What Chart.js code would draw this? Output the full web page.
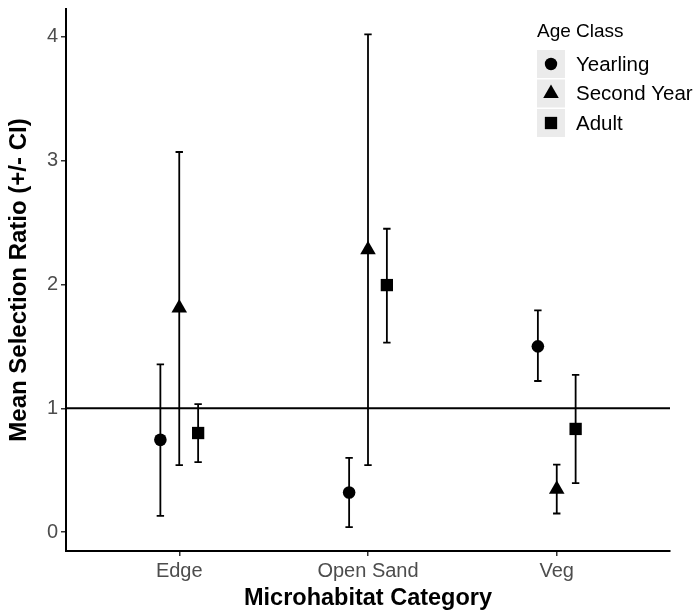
<!DOCTYPE html>
<html>
<head>
<meta charset="utf-8">
<script src="https://cdn.jsdelivr.net/npm/chart.js@4.4.1/dist/chart.umd.min.js"></script>
<style>
  html, body { margin: 0; padding: 0; background: #fff; }
  canvas { display: block; }
</style>
</head>
<body>
<canvas id="chart" width="694" height="616"></canvas>
<script>
const categories = ['Edge', 'Open Sand', 'Veg'];
const ageClasses = ['Yearling', 'Second Year', 'Adult'];
const pointStyles = ['circle', 'triangle', 'rect'];
const dodge = [-0.1, 0, 0.1];

const yearlingMean = [0.745, 0.32, 1.50];
const yearlingLow = [0.13, 0.04, 1.22];
const yearlingHigh = [1.355, 0.60, 1.79];

const secondMean = [1.81, 2.28, 0.345];
const secondLow = [0.54, 0.54, 0.15];
const secondHigh = [3.07, 4.02, 0.545];

const adultMean = [0.80, 1.995, 0.833];
const adultLow = [0.565, 1.53, 0.395];
const adultHigh = [1.034, 2.45, 1.27];

const yTicks = [0, 1, 2, 3, 4];
const refLine = 1;

const means = [yearlingMean, secondMean, adultMean];
const lows = [yearlingLow, secondLow, adultLow];
const highs = [yearlingHigh, secondHigh, adultHigh];

const FONT = '"Liberation Sans", Arial, sans-serif';

function markerPath(ctx, style, x, y, r) {
  ctx.beginPath();
  if (style === 'circle') {
    ctx.arc(x, y, r, 0, Math.PI * 2);
  } else if (style === 'triangle') {
    ctx.moveTo(x, y - r);
    ctx.lineTo(x + r * Math.sqrt(3) / 2, y + r / 2);
    ctx.lineTo(x - r * Math.sqrt(3) / 2, y + r / 2);
    ctx.closePath();
  } else {
    const s = r * Math.SQRT1_2;
    ctx.rect(x - s, y - s, 2 * s, 2 * s);
  }
  ctx.fill();
}

// error bars + reference line, under the points
const errorBars = {
  id: 'errorBars',
  beforeDatasetsDraw(chart) {
    const { ctx, scales: { x, y }, chartArea } = chart;
    ctx.save();
    ctx.strokeStyle = '#000';
    ctx.lineWidth = 1.8;
    const yRef = y.getPixelForValue(refLine);
    ctx.beginPath();
    ctx.moveTo(chartArea.left, yRef);
    ctx.lineTo(chartArea.right, yRef);
    ctx.stroke();
    ageClasses.forEach((a, k) => {
      categories.forEach((c, i) => {
        const px = x.getPixelForValue(i + 1 + dodge[k]);
        const lo = y.getPixelForValue(lows[k][i]);
        const hi = y.getPixelForValue(highs[k][i]);
        ctx.beginPath();
        ctx.moveTo(px, lo); ctx.lineTo(px, hi);
        ctx.moveTo(px - 3.7, lo); ctx.lineTo(px + 3.7, lo);
        ctx.moveTo(px - 3.7, hi); ctx.lineTo(px + 3.7, hi);
        ctx.stroke();
      });
    });
    ctx.restore();
  }
};

const legendBox = {
  id: 'legendBox',
  afterDraw(chart) {
    const ctx = chart.ctx;
    ctx.save();
    ctx.fillStyle = '#000';
    ctx.textBaseline = 'middle';
    ctx.textAlign = 'left';
    ctx.font = '19px ' + FONT;
    ctx.fillText('Age Class', 537, 32);
    const sizes = [6.2, 9, 8.7];
    ageClasses.forEach((name, k) => {
      const top = 50 + k * 29.5;
      ctx.fillStyle = '#ebebeb';
      ctx.fillRect(537, top, 28, 28);
      ctx.fillStyle = '#000';
      markerPath(ctx, pointStyles[k], 551, top + 14, sizes[k]);
      ctx.font = '20.5px ' + FONT;
      ctx.fillText(name, 576, top + 15);
    });
    ctx.restore();
  }
};

const datasets = ageClasses.map((name, k) => ({
  label: name,
  data: categories.map((c, i) => ({ x: i + 1 + dodge[k], y: means[k][i] })),
  pointStyle: pointStyles[k],
  pointRadius: [6.3, 9, 8.7][k],
  pointHoverRadius: [6.3, 9, 8.7][k],
  backgroundColor: '#000',
  borderColor: '#000',
  borderWidth: 0,
  clip: false
}));

new Chart(document.getElementById('chart'), {
  type: 'scatter',
  data: { datasets },
  plugins: [errorBars, legendBox],
  options: {
    responsive: false,
    animation: false,
    layout: { padding: { left: 0, top: 5, right: 24, bottom: 0 } },
    plugins: { legend: { display: false }, tooltip: { enabled: false } },
    scales: {
      x: {
        type: 'linear',
        min: 0.4,
        max: 3.6,
        afterBuildTicks: s => { s.ticks = categories.map((c, i) => ({ value: i + 1 })); },
        afterFit: s => { s.height = 65; s.paddingLeft = 0; s.paddingRight = 0; },
        border: { display: true, color: '#000', width: 2 },
        grid: { drawOnChartArea: false, drawTicks: true, tickLength: 5, color: '#333', lineWidth: 1.5 },
        ticks: {
          padding: 3,
          color: '#4d4d4d',
          font: { family: FONT, size: 20 },
          callback: v => categories[Math.round(v) - 1]
        },
        title: {
          display: true,
          text: 'Microhabitat Category',
          color: '#000',
          padding: { top: 0, bottom: 3 },
          font: { family: FONT, size: 23.5, weight: 'bold', lineHeight: 1.2 }
        }
      },
      y: {
        min: -0.153,
        max: 4.225,
        afterBuildTicks: s => { s.ticks = yTicks.map(v => ({ value: v })); },
        afterFit: s => { s.width = 66; s.paddingTop = 0; s.paddingBottom = 0; },
        border: { display: true, color: '#000', width: 2 },
        grid: { drawOnChartArea: false, drawTicks: true, tickLength: 5, color: '#333', lineWidth: 1.5 },
        ticks: {
          padding: 3,
          color: '#4d4d4d',
          font: { family: FONT, size: 20 }
        },
        title: {
          display: true,
          text: 'Mean Selection Ratio (+/- CI)',
          color: '#000',
          padding: { top: 5, bottom: 0 },
          font: { family: FONT, size: 24, weight: 'bold', lineHeight: 1.2 }
        }
      }
    }
  }
});
</script>
</body>
</html>
